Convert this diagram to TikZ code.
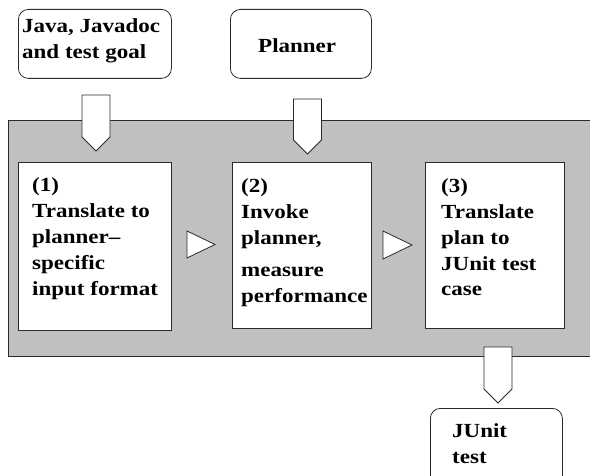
\documentclass[tikz,border=0pt]{standalone}
\usepackage{fontspec}
\setmainfont{Liberation Serif}
\newfontfamily\boxfont[FakeStretch=1.15]{Liberation Serif}
\usetikzlibrary{shapes.arrows}
\definecolor{panelgray}{HTML}{C0C0C0}
\definecolor{edge}{HTML}{2A2A2A}
\begin{document}
\begin{tikzpicture}[x=1pt,y=-1pt,
  outline/.style={draw=edge, line width=0.8pt},
  roundbox/.style={outline, fill=white, rounded corners=10pt, anchor=north west, inner sep=0pt},
  stepbox/.style={outline, fill=white, anchor=north west, inner sep=0pt},
  label/.style={anchor=base west, inner sep=0pt, align=left,
    font=\boxfont\bfseries\fontsize{20}{26}\selectfont},
  downarrow/.style={outline, fill=white, single arrow, shape border rotate=270,
    single arrow head extend=0pt, inner sep=0pt, minimum width=28pt},
  rightarrow/.style={outline, fill=white}
]
\useasboundingbox (0,0) rectangle (590,476);
\clip (0,0) rectangle (590,476);
% gray panel
\node[fill=panelgray, outline, anchor=north west, inner sep=0pt,
  minimum width=600pt, minimum height=236pt] (panel) at (8,120) {};
% input boxes
\node[roundbox, minimum width=153pt, minimum height=69pt] (java) at (18,9) {};
\node[label] (javat) at (22,59) {Java, Javadoc\\and test goal};
\node[roundbox, minimum width=141pt, minimum height=69pt] (planner) at (230,9) {};
\node[label] (plannert) at (258,53) {Planner};
% steps
\node[stepbox, minimum width=153pt, minimum height=168pt] (s1) at (18,162) {};
\node[label] (s1t) at (32,295) {(1)\\Translate to\\planner–\\specific\\input format};
\node[stepbox, minimum width=139pt, minimum height=166pt] (s2) at (232,162) {};
\node[label] (s2t) at (241,302) {(2)\\Invoke\\planner,\\[6pt]measure\\performance};
\node[stepbox, minimum width=139pt, minimum height=166pt] (s3) at (425,162) {};
\node[label] (s3t) at (441,296) {(3)\\Translate\\plan to\\JUnit test\\case};
% output box
\node[roundbox, minimum width=132pt, minimum height=90pt] (junit) at (430,408) {};
\node[label] (junitt) at (452,463) {JUnit\\test};
% block arrows
\node[downarrow, minimum height=56pt] (a1) at (96,116) {};
\node[downarrow, minimum height=55pt] (a2) at (307.5,119.5) {};
\node[downarrow, minimum height=56pt] (a3) at (498,368) {};
\coordinate (t1a) at (187,231);
\coordinate (t1b) at (215,244.5);
\coordinate (t1c) at (187,258);
\draw[rightarrow] (t1a) -- (t1b) -- (t1c) -- cycle;
\coordinate (t2a) at (383,231);
\coordinate (t2b) at (412,245);
\coordinate (t2c) at (383,259);
\draw[rightarrow] (t2a) -- (t2b) -- (t2c) -- cycle;
\end{tikzpicture}
\end{document}
